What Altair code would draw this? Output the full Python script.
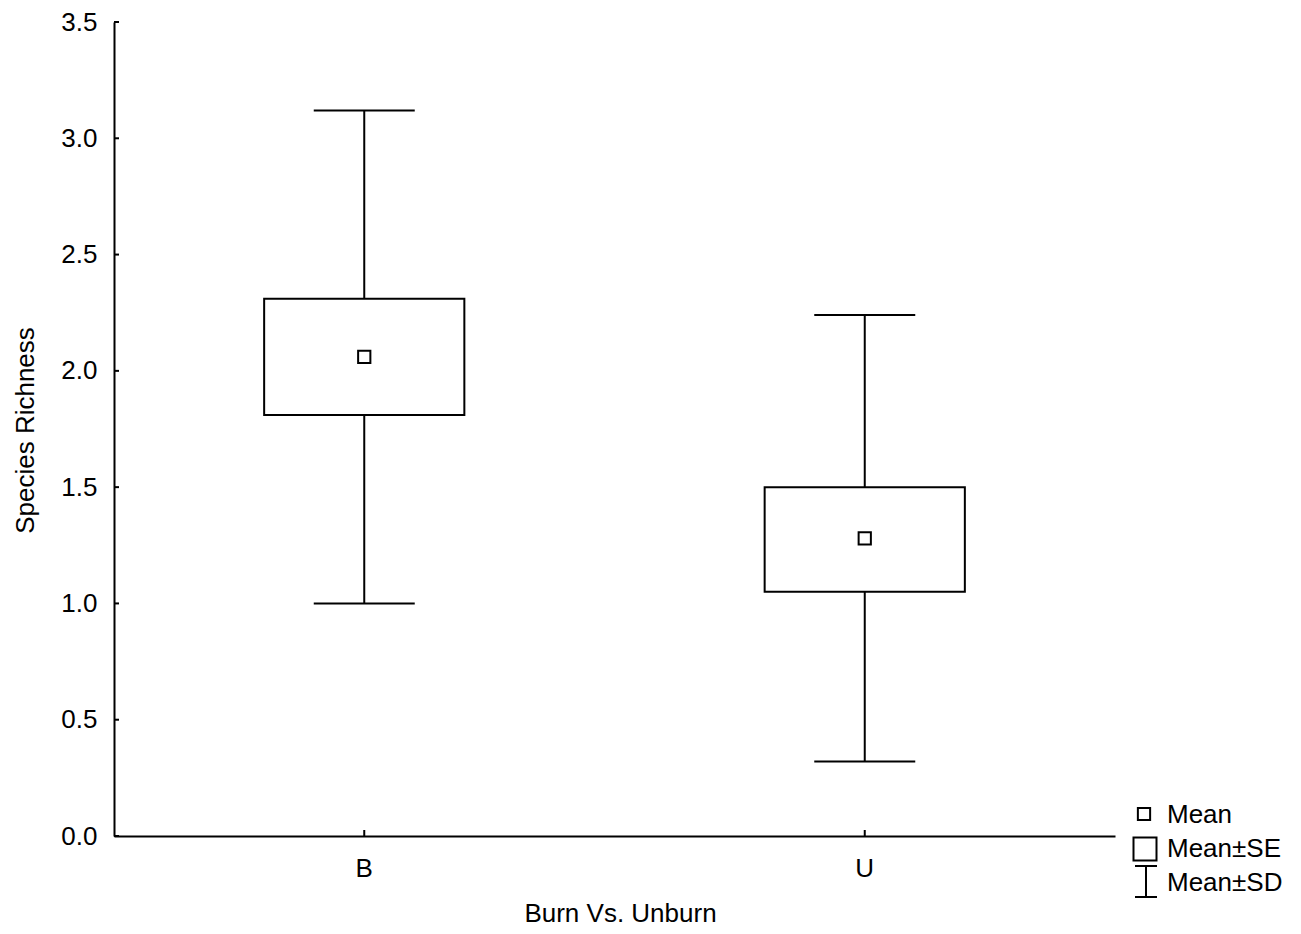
import altair as alt
import pandas as pd

# ---- data ----
categories = ["B", "U"]
means = [2.06, 1.28]
se_low = [1.81, 1.05]
se_high = [2.31, 1.50]
sd_low = [1.00, 0.32]
sd_high = [3.12, 2.24]
y_tick_values = [0.0, 0.5, 1.0, 1.5, 2.0, 2.5, 3.0, 3.5]
legend_labels = ["Mean", "Mean\u00b1SE", "Mean\u00b1SD"]

df = pd.DataFrame({
    "cat": categories, "mean": means,
    "se_lo": se_low, "se_hi": se_high,
    "sd_lo": sd_low, "sd_hi": sd_high,
})
ticks_df = pd.DataFrame({"v": y_tick_values})

W, H = 1001, 814
FONT = "Liberation Sans"
FS = 26

xs = alt.Scale(type="band", domain=categories, paddingInner=0, paddingOuter=0)
ys = alt.Scale(domain=[0, 3.5], nice=False, zero=True)

x_enc = alt.X("cat:N", scale=xs, sort=categories,
              axis=alt.Axis(title="Burn Vs. Unburn", labelAngle=0, labelPadding=19,
                            titleY=77, titleX=506, titleBaseline="middle"))
y_axis = alt.Axis(title="Species Richness", values=y_tick_values, format=".1f",
                  labelPadding=17, titleX=-89, titleY=408, titleBaseline="middle")

base = alt.Chart(df)

whisker = base.mark_rule(color="black", strokeWidth=2).encode(
    x=x_enc,
    y=alt.Y("sd_lo:Q", scale=ys, axis=y_axis),
    y2="sd_hi:Q",
)
cap_lo = base.mark_tick(color="black", size=101, thickness=2, opacity=1).encode(
    x="cat:N", y="sd_lo:Q")
cap_hi = base.mark_tick(color="black", size=101, thickness=2, opacity=1).encode(
    x="cat:N", y="sd_hi:Q")
box = base.mark_bar(fill="white", stroke="black", strokeWidth=2,
                    width=alt.RelativeBandSize(0.4)).encode(
    x="cat:N",
    y="se_lo:Q",
    y2="se_hi:Q",
)
mean_pt = base.mark_square(size=150, filled=False, fill="white", stroke="black",
                           strokeWidth=2, opacity=1).encode(
    x="cat:N", y="mean:Q")

# inward axis ticks
ytick_marks = alt.Chart(ticks_df).mark_rule(color="black", strokeWidth=2).encode(
    y="v:Q", x=alt.value(0), x2=alt.value(5))
xtick_marks = base.mark_rule(color="black", strokeWidth=2).encode(
    x="cat:N", y=alt.value(H - 6), y2=alt.value(H))

# manual legend (outside plot area, bottom right)
leg_df = pd.DataFrame({"label": legend_labels})
leg_text = alt.Chart(leg_df).transform_window(
    idx="row_number()"
).transform_calculate(
    py="793 + (datum.idx - 1) * 34"
).mark_text(align="left", baseline="middle", font=FONT, fontSize=FS, color="black").encode(
    text="label:N", x=alt.value(1053), y=alt.Y("py:Q", scale=None),
)
one = leg_df.head(1)
leg_small = alt.Chart(one).mark_square(
    size=150, filled=False, stroke="black", strokeWidth=2, opacity=1).encode(
    x=alt.value(1030), y=alt.value(792))
leg_big = alt.Chart(one).mark_square(
    size=529, filled=False, stroke="black", strokeWidth=2, opacity=1).encode(
    x=alt.value(1031), y=alt.value(827))
leg_i_stem = alt.Chart(one).mark_rule(color="black", strokeWidth=2).encode(
    x=alt.value(1032), y=alt.value(844), y2=alt.value(875))
leg_i_top = alt.Chart(one).mark_rule(color="black", strokeWidth=2).encode(
    x=alt.value(1021), x2=alt.value(1043), y=alt.value(844))
leg_i_bot = alt.Chart(one).mark_rule(color="black", strokeWidth=2).encode(
    x=alt.value(1021), x2=alt.value(1043), y=alt.value(875))

chart = alt.layer(
    whisker, cap_lo, cap_hi, box, mean_pt, ytick_marks, xtick_marks,
    leg_text, leg_small, leg_big, leg_i_stem, leg_i_top, leg_i_bot,
).properties(
    width=W, height=H,
    background="white",
    autosize=alt.AutoSizeParams(type="none"),
    padding={"left": 106, "top": 14, "right": 175, "bottom": 90},
).configure_view(
    stroke=None
).configure_axis(
    domainColor="black", domainWidth=2, ticks=False, grid=False,
    labelFont=FONT, labelFontSize=FS, labelColor="black",
    titleFont=FONT, titleFontSize=FS, titleColor="black", titleFontWeight="normal",
)

chart.save("out.html", embed_options={"renderer": "svg", "actions": False})
